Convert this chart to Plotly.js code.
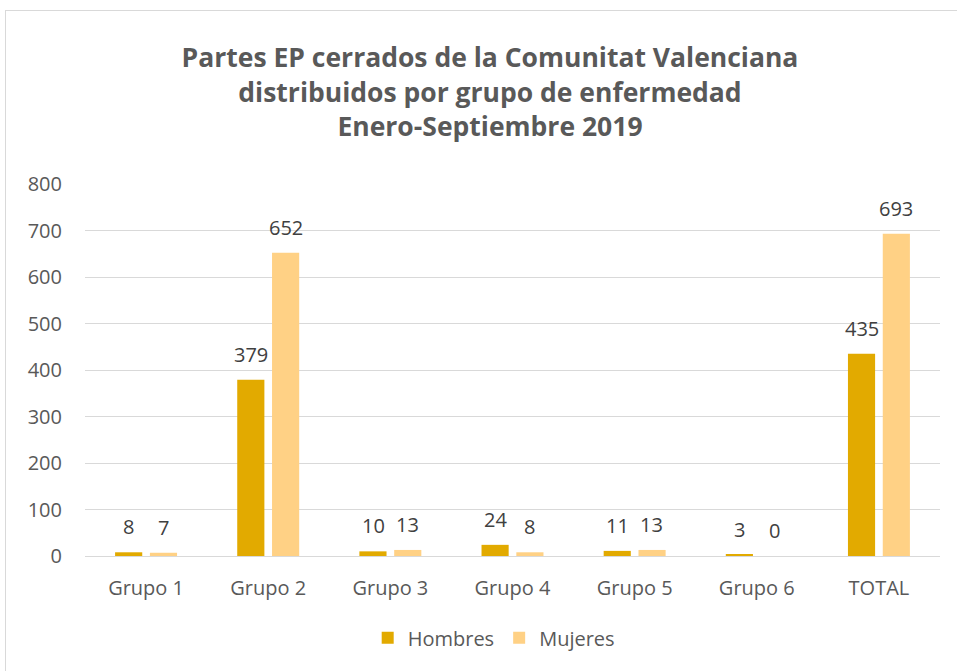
<!DOCTYPE html>
<html><head><meta charset="utf-8">
<script src="https://cdn.plot.ly/plotly-3.0.1.min.js"></script>
<style>
html,body{margin:0;padding:0;background:#fff;}
#frame{position:absolute;left:5px;top:10px;width:960px;height:670px;border:1px solid #d9d9d9;box-sizing:border-box;pointer-events:none;}
#chart{width:957px;height:671px;}
</style></head>
<body>
<div id="chart"></div>
<div id="frame"></div>
<script>
const categories = ["Grupo 1","Grupo 2","Grupo 3","Grupo 4","Grupo 5","Grupo 6","TOTAL"];
const hombres = [8,379,10,24,11,3,435];
const mujeres = [7,652,13,8,13,0,693];
const yTicks = [0,100,200,300,400,500,600,700,800];

const font = "'Open Sans', 'Liberation Sans', sans-serif";
const traces = [
 {type:'bar', name:'Hombres', x:categories, y:hombres, marker:{color:'#E2AA00'}},
 {type:'bar', name:'Mujeres', x:categories, y:mujeres, marker:{color:'#FFD185'}}
];
const annotations = [];
[[hombres,-17.3],[mujeres,17.3]].forEach(([vals,dx])=>{
  vals.forEach((v,i)=>{
    annotations.push({x:categories[i], y:v, xref:'x', yref:'y', text:String(v), showarrow:false,
      xanchor:'center', yanchor:'bottom', xshift:dx, yshift:10,
      font:{size:20,color:'#404040',family:font}});
  });
});
const layout = {
 width:957, height:671,
 margin:{l:85,r:17,t:184,b:115},
 paper_bgcolor:'#fff', plot_bgcolor:'#fff',
 font:{family:font, color:'#595959', size:20},
 title:{text:'<b>Partes EP cerrados de la Comunitat Valenciana<br>distribuidos por grupo de enfermedad<br>Enero-Septiembre 2019</b>',
   font:{size:26.5,color:'#595959',family:font,lineposition:'none'}, x:0.512, xanchor:'center', y:0.9, yanchor:'top'},
 barmode:'group', bargap:0.43, bargroupgap:0.22,
 xaxis:{tickfont:{size:20,color:'#595959'}, showline:false, ticks:'', showgrid:false, ticklabelstandoff:18},
 yaxis:{range:[0,800], tickvals:yTicks, gridcolor:'#d9d9d9', gridwidth:1.3, zeroline:true, zerolinecolor:'#d9d9d9', zerolinewidth:1.3,
   tickfont:{size:20,color:'#595959'}, ticks:'', showline:false, ticklabelstandoff:22},
 legend:{orientation:'h', x:0.478, xanchor:'center', y:-0.22, yanchor:'middle', font:{size:20,color:'#595959'}},
 annotations:annotations,
 showlegend:true
};
Plotly.newPlot('chart', traces, layout, {displayModeBar:false});
</script>
</body></html>
